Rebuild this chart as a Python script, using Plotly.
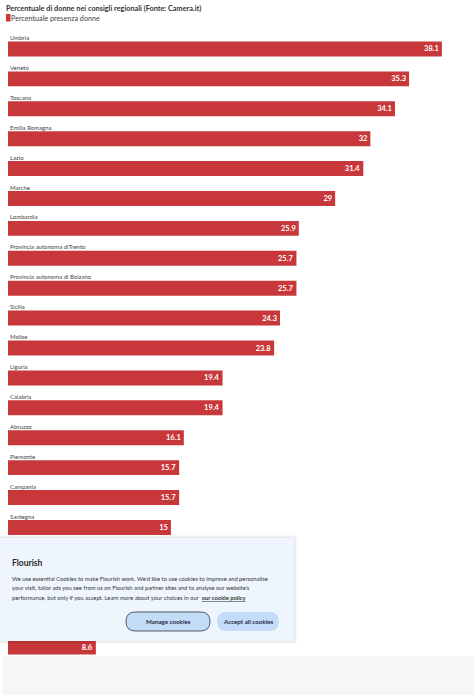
import plotly.graph_objects as go

# ---- data ----
regions = [
    "Umbria", "Veneto", "Toscana", "Emilia Romagna", "Lazio", "Marche",
    "Lombardia", "Provincia autonoma diTrento", "Provincia autonoma di Bolzano",
    "Sicilia", "Molise", "Liguria", "Calabria", "Abruzzo", "Piemonte",
    "Campania", "Sardegna", "Puglia", "Valle d'Aosta", "Friuli Venezia Giulia",
    "Basilicata",
]
values = [38.1, 35.3, 34.1, 32, 31.4, 29, 25.9, 25.7, 25.7, 24.3, 23.8,
          19.4, 19.4, 16.1, 15.7, 15.7, 15, 13.7, 11.4, 10.2, 8.6]
series_name = "Percentuale presenza donne"
title_text = "Percentuale di donne nei consigli regionali (Fonte: Camera.it)"

# ---- layout geometry (pixels) ----
W, H = 474, 696
L, R, T, B = 8, 8, 34, 34
PW, PH = W - L - R, H - T - B
FONT = "Lato"
RED = "#c8373a"


def xp(px):
    return (px - L) / PW


def yp(py):
    return (H - B - py) / PH


fig = go.Figure()
fig.add_trace(go.Bar(
    x=values, y=regions, orientation="h",
    marker=dict(color=RED, line=dict(width=0)),
    width=0.5,
    text=[f"{v:g}" for v in values],
    texttemplate="<b>%{text}</b>",
    textposition="inside", insidetextanchor="end", textangle=0,
    constraintext="none",
    textfont=dict(color="white", size=7.5, family=FONT),
    name=series_name, showlegend=False, hoverinfo="skip",
))

shapes = []
annotations = []


def ann(x, y, text, size, color, anchor="left", bold=False):
    annotations.append(dict(
        xref="paper", yref="paper", x=xp(x), y=yp(y), xanchor=anchor, yanchor="middle",
        text=f"<b>{text}</b>" if bold else text, showarrow=False,
        borderpad=0, borderwidth=0,
        font=dict(family=FONT, size=size, color=color)))


# title + legend
ann(6, 8.5, title_text, 7.3, "#333333", bold=True)
shapes.append(dict(type="rect", xref="paper", yref="paper",
                   x0=xp(6), x1=xp(10.5), y0=yp(14), y1=yp(21.5),
                   fillcolor=RED, line=dict(width=0), layer="above"))
ann(11, 18, series_name, 7.2, "#444444")

# footer
shapes.append(dict(type="rect", xref="paper", yref="paper",
                   x0=xp(2), x1=xp(474), y0=yp(656), y1=yp(695),
                   fillcolor="#f6f6f6", line=dict(width=0), layer="above"))

# cookie banner with soft shadow
for i, a in enumerate([0.025, 0.03, 0.04]):
    d = 3 - i
    shapes.append(dict(type="rect", xref="paper", yref="paper",
                       x0=xp(0), x1=xp(294 + d), y0=yp(538 - d), y1=yp(641 + d),
                       fillcolor=f"rgba(0,0,0,{a})", line=dict(width=0), layer="above"))
shapes.append(dict(type="rect", xref="paper", yref="paper",
                   x0=xp(0), x1=xp(294), y0=yp(538), y1=yp(641),
                   fillcolor="#eef5fd", line=dict(width=0), layer="above"))


def pill(x0, x1, y0, y1):
    r = (y1 - y0) / 2
    pts = [
        ("M", (x0 + r, y0)), ("L", (x1 - r, y0)),
        ("Q", (x1, y0), (x1, y0 + r)), ("Q", (x1, y1), (x1 - r, y1)),
        ("L", (x0 + r, y1)),
        ("Q", (x0, y1), (x0, y1 - r)), ("Q", (x0, y0), (x0 + r, y0)),
    ]
    s = ""
    for item in pts:
        cmd = item[0]
        s += cmd + " ".join(f"{xp(px):.5f},{yp(py):.5f}" for px, py in item[1:]) + " "
    return s + "Z"


shapes.append(dict(type="path", xref="paper", yref="paper", path=pill(126, 210, 612, 631),
                   fillcolor="#c5dcf7", line=dict(color="#2b3445", width=0.8), layer="above"))
shapes.append(dict(type="path", xref="paper", yref="paper", path=pill(217, 279, 612, 631),
                   fillcolor="#c4dcf8", line=dict(width=0), layer="above"))

ann(12, 563, "Flourish", 8.5, "#2b2b2b", bold=True)
body = [
    "We use essential Cookies to make Flourish work. We'd like to use cookies to improve and personalise",
    "your visit, tailor ads you see from us on Flourish and partner sites and to analyse our website's",
    "performance, but only if you accept. Learn more about your choices in our  "
    "<b><span style='text-decoration:underline'>our cookie policy</span></b>",
]
for i, line in enumerate(body):
    ann(11.5, 578 + i * 9.7, line, 5.8, "#333333")
ann(168, 621.5, "Manage cookies", 6.2, "#1f2a44", anchor="center", bold=True)
ann(248, 621.5, "Accept all cookies", 6.2, "#1f2a44", anchor="center", bold=True)

fig.update_layout(
    width=W, height=H,
    margin=dict(l=L, r=R, t=T, b=B, pad=0),
    paper_bgcolor="white", plot_bgcolor="white",
    font=dict(family=FONT, color="#333333"),
    bargap=0.5,
    xaxis=dict(range=[1.11, 1.11 + PW / 11.73], visible=False, showgrid=False, zeroline=False),
    yaxis=dict(
        type="category", categoryorder="array", categoryarray=regions,
        autorange="reversed", showgrid=False, zeroline=False, showline=False,
        ticks="", ticklabelposition="inside", ticklabelstandoff=-1,
        ticklabelshift=11,
        tickfont=dict(family=FONT, size=6, color="#444444"),
    ),
    shapes=shapes, annotations=annotations, showlegend=False,
)

fig.write_html(
    "out.html",
    config={"displayModeBar": False},
    post_script="document.body.style.margin='0';document.body.style.overflow='hidden';",
)
